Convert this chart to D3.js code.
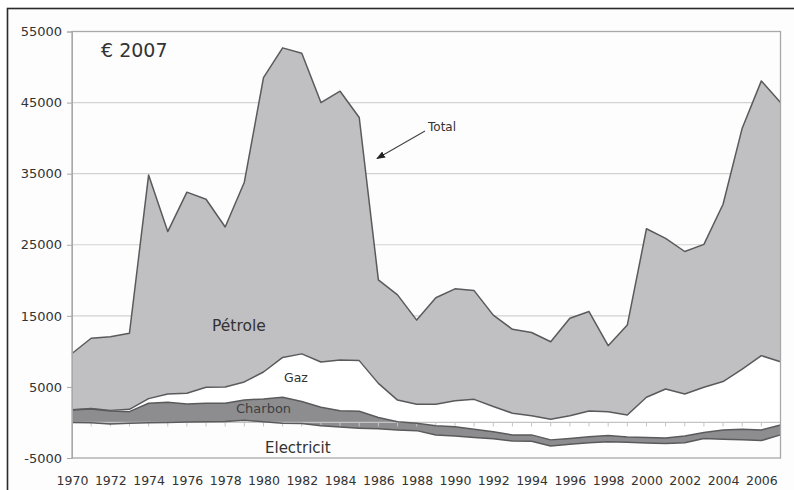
<!DOCTYPE html>
<html><head><meta charset="utf-8">
<script src="https://cdn.jsdelivr.net/npm/d3@7"></script>
<style>
html,body{margin:0;padding:0;background:#fff;}
svg{display:block;font-family:"DejaVu Sans",Verdana,sans-serif;}
</style></head>
<body><svg id="c" width="794" height="490"></svg>
<script>
const years = d3.range(1970, 2008);
const electricite = [0,-50,-200,-100,-50,0,50,100,150,300,100,-100,-150,-450,-650,-800,-900,-1050,-1150,-1750,-1900,-2100,-2300,-2600,-2650,-3300,-3050,-2850,-2700,-2800,-2900,-2950,-2850,-2250,-2350,-2450,-2550,-1750];
const charbon = [1760,1950,1820,1620,2750,2840,2550,2600,2550,2870,3200,3640,3100,2590,2310,2370,1600,1150,1050,1300,1300,1150,1000,850,900,850,800,850,850,750,800,750,950,850,1300,1500,1500,1400];
const gaz = [40,50,80,330,650,1160,1500,2250,2300,2530,3800,5610,6700,6360,7140,7130,4800,3050,2650,3000,3650,4200,3550,3050,2700,2900,3200,3600,3350,3100,5650,6900,5900,6350,6800,8450,10450,8900];
const total = [9700,11850,12050,12550,34800,26850,32400,31400,27500,33800,48500,52700,51950,45000,46600,42900,20050,17950,14400,17550,18800,18550,15100,13100,12650,11350,14650,15600,10800,13700,27250,25900,24050,25050,30700,41400,48050,45000];
const yTicks = [-5000,5000,15000,25000,35000,45000,55000];
const xTickLabels = d3.range(1970, 2007, 2);

// petrole = total minus the stacked sum below it
const petrole = total.map((t,i) => t - (electricite[i] + charbon[i] + gaz[i]));

const rows = years.map((y,i) => ({year:y, elec:electricite[i], charbon:charbon[i], gaz:gaz[i], petrole:petrole[i]}));
const keys = ["elec","charbon","gaz","petrole"];
const fills = {elec:"#ffffff", charbon:"#8d8d8f", gaz:"#ffffff", petrole:"#c0c0c2"};

const svg = d3.select("#c");
const x = d3.scaleLinear().domain([1970, 2007]).range([72, 780.5]);
const y = d3.scaleLinear().domain([-5000, 55000]).range([458, 31.5]);

// outer frame
svg.append("rect").attr("x",7.5).attr("y",8.5).attr("width",820).attr("height",520)
  .attr("fill","#fdfdfd").attr("stroke","#2a2a2a").attr("stroke-width",1.6);

// gridlines
svg.append("g").selectAll("line").data(yTicks.filter(v=>v!==-5000 && v!==55000)).join("line")
  .attr("x1",72).attr("x2",780.5).attr("y1",d=>y(d)).attr("y2",d=>y(d))
  .attr("stroke","#d2d2d2").attr("stroke-width",1.2);

const stack = d3.stack().keys(keys).order(d3.stackOrderNone).offset(d3.stackOffsetNone);
const series = stack(rows);

const area = d3.area().x(d=>x(d.data.year)).y0(d=>y(d[0])).y1(d=>y(d[1]));
const line = d3.line().x(d=>x(d.data.year)).y(d=>y(d[1]));

svg.append("g").selectAll("path").data(series).join("path")
  .attr("d",area).attr("fill",d=>fills[d.key]).attr("stroke","none");

// zero axis with year ticks
svg.append("line").attr("x1",72).attr("x2",780.5).attr("y1",y(0)).attr("y2",y(0))
  .attr("stroke","#c4c4c4").attr("stroke-width",1.2);
svg.append("g").selectAll("line").data(years.slice(1)).join("line")
  .attr("x1",d=>x(d)).attr("x2",d=>x(d)).attr("y1",y(0)).attr("y2",y(0)+4)
  .attr("stroke","#c4c4c4").attr("stroke-width",1);

svg.append("g").selectAll("path").data(series).join("path")
  .attr("d",line).attr("fill","none").attr("stroke","#5a5a5c").attr("stroke-width",1.5)
  .attr("stroke-linejoin","round");

// plot frame
svg.append("rect").attr("x",72).attr("y",y(55000)).attr("width",780.5-72).attr("height",y(-5000)-y(55000))
  .attr("fill","none").attr("stroke","#a8a8a8").attr("stroke-width",1.3);

// y axis
const yAxis = d3.axisLeft(y).tickValues(yTicks).tickSize(5).tickPadding(5).tickFormat(d => String(d));
const gy = svg.append("g").attr("transform","translate(72,0)").call(yAxis);
gy.select(".domain").attr("stroke","#a8a8a8");
gy.selectAll(".tick line").attr("stroke","#a8a8a8");
gy.selectAll("text").attr("font-size",13).attr("fill","#333").attr("font-family","DejaVu Sans, sans-serif");

// x axis labels
const xAxis = d3.axisBottom(x).tickValues(xTickLabels).tickSize(0).tickPadding(0).tickFormat(d => String(d));
const gx = svg.append("g").attr("transform","translate(0,"+(y(-5000))+")").call(xAxis);
gx.select(".domain").remove();
gx.selectAll("text").attr("font-size",12.5).attr("fill","#333").attr("dy",null).attr("y",27)
  .attr("font-family","DejaVu Sans, sans-serif");

// labels
const lab = (t,xx,yy,fs,anchor) => svg.append("text").text(t).attr("x",xx).attr("y",yy)
  .attr("font-size",fs).attr("fill","#333").attr("text-anchor",anchor||"start");
lab("€ 2007",101,57,19);
lab("Pétrole",212,331,15.5);
lab("Gaz",284,382,12.5);
lab("Charbon",236,412.5,13).attr("fill","#404040");
lab("Electricit",265,453,15);
lab("Total",428,131,12);

// arrow
svg.append("defs").append("marker").attr("id","ah").attr("viewBox","0 0 10 10")
  .attr("refX",9).attr("refY",5).attr("markerWidth",8).attr("markerHeight",8).attr("orient","auto")
  .append("path").attr("d","M0,1 L10,5 L0,9 Z").attr("fill","#222");
svg.append("line").attr("x1",425).attr("y1",131).attr("x2",377).attr("y2",158.5)
  .attr("stroke","#444").attr("stroke-width",1.1).attr("marker-end","url(#ah)");
</script></body></html>
